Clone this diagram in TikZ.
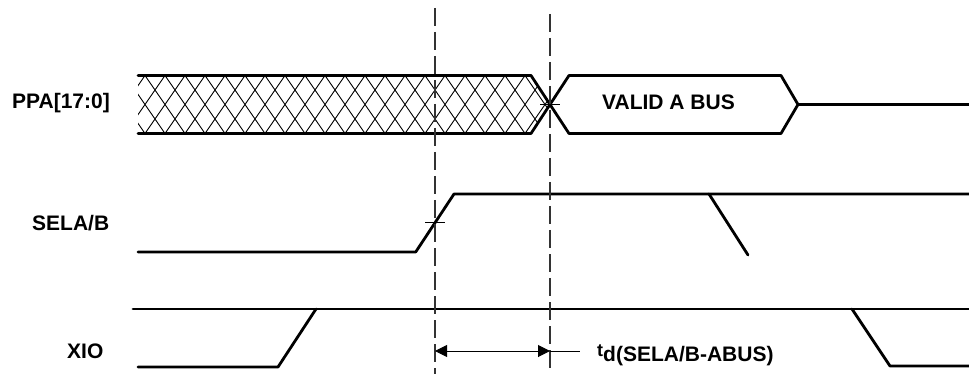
\documentclass[tikz,border=0pt]{standalone}
\usepackage{fontspec}
\setmainfont{Liberation Sans}
\usetikzlibrary{arrows.meta}
\begin{document}
\begin{tikzpicture}[x=1pt,y=-1pt,
  sig/.style={line width=2.8pt,line join=round,line cap=round},
  hatchline/.style={line width=0.9pt},
  guide/.style={line width=1.2pt,dash pattern=on 18pt off 6pt,black!80},
  tick/.style={line width=0.8pt},
  lbl/.style={font=\fontsize{21}{25}\selectfont\bfseries,inner sep=0pt,anchor=base west},
  dim/.style={line width=1pt,{Triangle[length=12pt,width=12pt]}-{Triangle[length=12pt,width=12pt]}}]
\useasboundingbox (0,0) rectangle (969,374);
% labels
\node[lbl] (lppa) at (12,108.5) {PPA[17:0]};
\node[lbl] (lsel) at (32,230) {SELA/B};
\node[lbl] (lxio) at (67,358) {XIO};
\node[lbl] (lvalid) at (602,110) {VALID A BUS};
% hatch
\begin{scope}
\clip (138,75.5) -- (531,75.5) -- (550,104.5) -- (531,133.5) -- (138,133.5) -- cycle;
\foreach \i in {-3,...,22}{
  \draw[hatchline] ({145+20*\i-22},{136.4}) -- ({145+20*\i+22},{72.6});
  \draw[hatchline] ({145+20*\i-22},{72.6}) -- ({145+20*\i+22},{136.4});
}
\end{scope}
% PPA bus
\draw[sig] (138,75.5) -- (531,75.5) -- (569,133.5) -- (781,133.5) -- (798,104.5) -- (969,104.5);
\draw[sig] (138,133.5) -- (531,133.5) -- (569,75.5) -- (781,75.5) -- (798,104.5);
% SELA/B
\draw[sig] (138,252) -- (415.7,252) -- (454,194) -- (969,194);
\draw[sig] (709,194) -- (748,255);
% XIO
\draw[sig] (133,309) -- (969,309);
\draw[sig] (138,367) -- (278,367) -- (316,309);
\draw[sig] (852,309) -- (890,366) -- (969,366);
% guides
\coordinate (g1t) at (435,8);
\coordinate (g1b) at (435,374);
\coordinate (g2t) at (550,14);
\coordinate (g2b) at (550,374);
\draw[guide] (g1t) -- (g1b);
\draw[guide] (g2t) -- (g2b);
% cross ticks
\draw[tick] (425,222.7) -- (445,222.7);
\draw[tick] (540,104.5) -- (560,104.5);
% dimension
\coordinate (da) at (435,351);
\coordinate (db) at (550,351);
\coordinate (dc) at (580,351);
\draw[dim] (da) -- (db);
\draw[line width=1pt] (db) -- (dc);
\node[inner sep=0pt,anchor=base west,font=\fontsize{21}{25}\selectfont\bfseries] (ltd) at (597,361) {\raisebox{4.5pt}{\fontsize{18}{20}\selectfont t}d(SELA/B-ABUS)};
\end{tikzpicture}
\end{document}
